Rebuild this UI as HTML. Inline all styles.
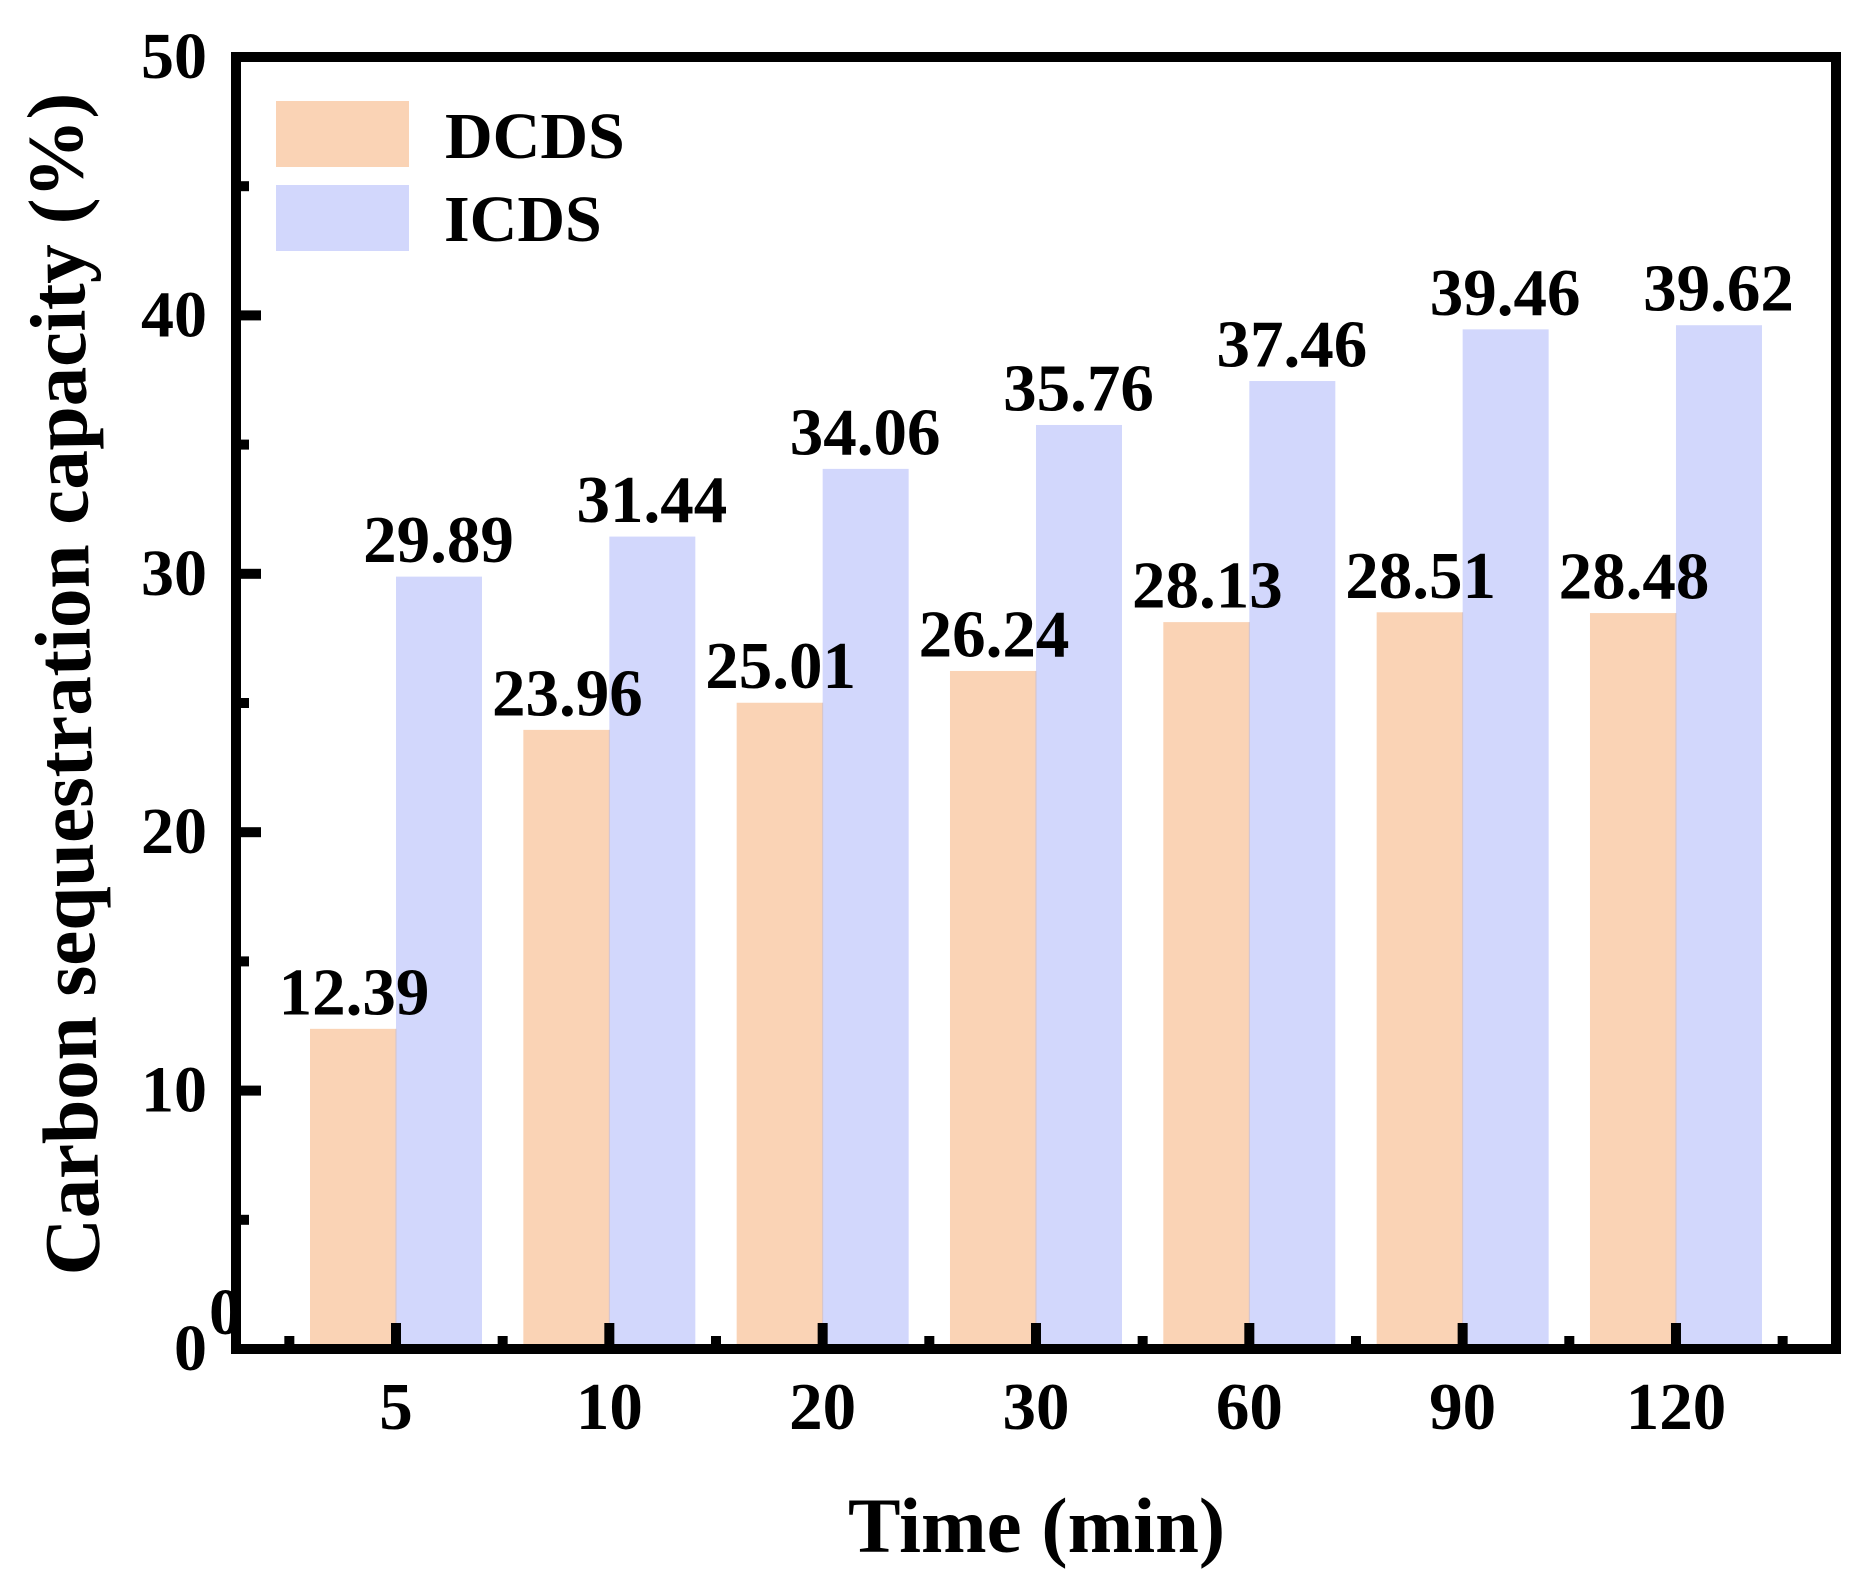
<!DOCTYPE html>
<html lang="en">
<head>
<meta charset="utf-8">
<title>Carbon sequestration capacity</title>
<style>
  html, body { margin: 0; padding: 0; background: #ffffff; }
  svg { display: block; }
  text { font-family: "Liberation Serif", "Times New Roman", serif; font-weight: bold; fill: #000; }
</style>
</head>
<body>
<svg id="chart" xmlns="http://www.w3.org/2000/svg" width="1872" height="1593" viewBox="0 0 1872 1593">
  <rect x="0" y="0" width="1872" height="1593" fill="#ffffff"/>
  <text x="209" y="1334" font-size="66">0</text>
  <g id="bars"></g>
  <g id="axes"></g>
  <g id="labels"></g>
  <g>
    <rect x="276" y="101" width="133" height="66" fill="#FAD3B5"/>
    <text x="445" y="158" font-size="66">DCDS</text>
    <rect x="276" y="185" width="133" height="66" fill="#D2D7FC"/>
    <text x="444" y="241" font-size="66">ICDS</text>
  </g>
  <text x="848" y="1552" font-size="78.8">Time (min)</text>
  <text transform="translate(99.4 1275) rotate(-90.88)" x="0" y="0" font-size="79">Carbon sequestration capacity (%)</text>
</svg>
<script>
const categories = ["5", "10", "20", "30", "60", "90", "120"];
const dcdsValues = [12.39, 23.96, 25.01, 26.24, 28.13, 28.51, 28.48];
const icdsValues = [29.89, 31.44, 34.06, 35.76, 37.46, 39.46, 39.62];
const yTickLabels = [0, 10, 20, 30, 40, 50];
const yMinorTicks = [5, 15, 25, 35, 45];

const NS = "http://www.w3.org/2000/svg";
const yZero = 1349, yUnit = (1349 - 57) / 50;
const xFirst = 396, xStep = 213.33;
const barWidth = 86;
const yScale = v => yZero - v * yUnit;
const xScale = i => xFirst + i * xStep;

function svgEl(tag, parent, props) {
  const el = document.createElementNS(NS, tag);
  for (const k in props) el.setAttribute(k, props[k]);
  parent.appendChild(el);
  return el;
}

const barsG = document.getElementById("bars");
const axesG = document.getElementById("axes");
const labelsG = document.getElementById("labels");

categories.forEach((cat, i) => {
  const cx = xScale(i);
  const d = dcdsValues[i], c = icdsValues[i];

  const dBar = svgEl("rect", barsG, { x: cx - barWidth, y: yScale(d), width: barWidth, height: yZero - yScale(d), fill: "#FAD3B5" });
  
  

  const cBar = svgEl("rect", barsG, { x: cx, y: yScale(c), width: barWidth, height: yZero - yScale(c), fill: "#D2D7FC" });
  
  

  const seam = svgEl("rect", barsG, { x: cx - 0.5, y: yScale(Math.min(d, c)), width: 1, height: yZero - yScale(Math.min(d, c)), fill: "#D3C3CC" });
  
  

  const dLab = svgEl("text", labelsG, { x: cx - barWidth / 2 + 1, y: yScale(d) - 14.5, "font-size": 67, "text-anchor": "middle" });
  dLab.textContent = d.toFixed(2);
  
  

  const cLab = svgEl("text", labelsG, { x: cx + barWidth / 2 - 0.5, y: yScale(c) - 14.5, "font-size": 67, "text-anchor": "middle" });
  cLab.textContent = c.toFixed(2);
  
  

  const tick = svgEl("rect", axesG, { x: cx - 5, y: 1323, width: 10, height: 21, fill: "#000" });
  
  

  const tl = svgEl("text", axesG, { x: cx, y: 1429, "font-size": 67, "text-anchor": "middle" });
  tl.textContent = cat;
  
  
});

for (let i = 0; i <= categories.length; i++) {
  const mx = xScale(i) - xStep / 2;
  const m = svgEl("rect", axesG, { x: mx - 5, y: 1336, width: 10, height: 8, fill: "#000" });
  
  
}

yTickLabels.forEach(v => {
  const y = yScale(v);
  const t = svgEl("rect", axesG, { x: 241, y: y - 5, width: 20, height: 10, fill: "#000" });
  
  

  const tl = svgEl("text", axesG, { x: 207, y: y + 21, "font-size": 66, "text-anchor": "end" });
  tl.textContent = String(v);
  
  
});

yMinorTicks.forEach(v => {
  const t = svgEl("rect", axesG, { x: 241, y: yScale(v) - 5, width: 8, height: 10, fill: "#000" });
  
  
});

const frame = svgEl("rect", axesG, { x: 236, y: 57, width: 1600, height: 1292, fill: "none", stroke: "#000", "stroke-width": 10 });


</script>
</body>
</html>
